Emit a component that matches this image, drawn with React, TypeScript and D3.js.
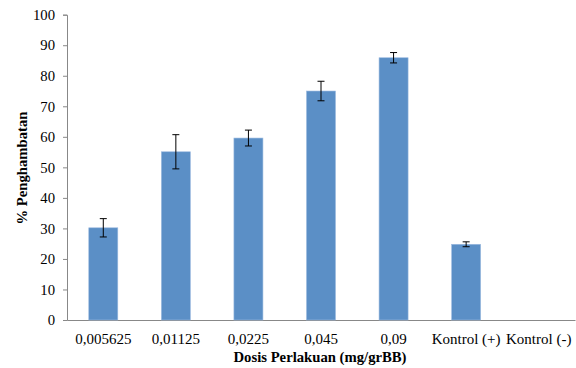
import * as d3 from "d3";
import { useRef, useEffect } from "react";

const categories = ["0,005625", "0,01125", "0,0225", "0,045", "0,09", "Kontrol (+)", "Kontrol (-)"];
const values = [30.2, 55.1, 59.6, 75.0, 85.9, 24.8, 0];
const errors = [3.0, 5.6, 2.6, 3.2, 1.7, 0.8, 0];
const yTicks = [0, 10, 20, 30, 40, 50, 60, 70, 80, 90, 100];

const width = 576;
const height = 368;
const margin = { top: 14.7, right: 1, bottom: 48, left: 67 };
const FONT = "'Liberation Serif', 'Times New Roman', serif";

const App = () => {
  const svgRef = useRef(null);

  useEffect(() => {
    const innerW = width - margin.left - margin.right;
    const innerH = height - margin.top - margin.bottom;

    const xScale = d3.scaleBand().domain(categories).range([0, innerW]).paddingInner(0.6).paddingOuter(0.3);
    const yScale = d3.scaleLinear().domain([0, 100]).range([innerH, 0]);

    const svgEl = d3.select(svgRef.current);
    svgEl.selectAll("*").remove();

    const svg = svgEl.append("g").attr("transform", `translate(${margin.left},${margin.top})`);

    // y axis
    const yAxisGroup = svg
      .append("g")
      .call(d3.axisLeft(yScale).tickValues(yTicks).tickSize(4).tickPadding(8));
    yAxisGroup.attr("font-family", null).attr("font-size", null);
    yAxisGroup.select(".domain").attr("stroke", "#888");
    yAxisGroup.selectAll("line").attr("stroke", "#888");
    yAxisGroup
      .selectAll("text")
      .attr("fill", "#000")
      .style("font-family", FONT)
      .style("font-size", "14.7px");

    // x axis
    const xAxisGroup = svg
      .append("g")
      .attr("transform", `translate(0, ${innerH})`)
      .call(d3.axisBottom(xScale).tickSize(0).tickPadding(13));
    xAxisGroup.attr("font-family", null).attr("font-size", null);
    xAxisGroup.select(".domain").attr("stroke", "#888");
    xAxisGroup
      .selectAll("text")
      .attr("fill", "#000")
      .style("font-family", FONT)
      .style("font-size", "15px");

    // bars
    svg
      .selectAll(".bar")
      .data(values)
      .enter()
      .append("rect")
      .attr("x", (d, i) => xScale(categories[i]))
      .attr("y", (d) => yScale(d))
      .attr("width", xScale.bandwidth())
      .attr("height", (d) => innerH - yScale(d))
      .attr("fill", "#5b8fc6")
      .attr("stroke", "#9dbbe0")
      .attr("stroke-width", 0.6);

    // error bars
    const eb = svg
      .selectAll(".err")
      .data(values.map((v, i) => ({ v, e: errors[i], c: categories[i] })).filter((d) => d.e > 0))
      .enter()
      .append("g")
      .attr("stroke", "#000")
      .attr("stroke-width", 1);
    const cx = (d) => xScale(d.c) + xScale.bandwidth() / 2;
    eb.append("line")
      .attr("x1", cx)
      .attr("x2", cx)
      .attr("y1", (d) => yScale(d.v + d.e))
      .attr("y2", (d) => yScale(d.v - d.e));
    eb.append("line")
      .attr("x1", (d) => cx(d) - 3.5)
      .attr("x2", (d) => cx(d) + 3.5)
      .attr("y1", (d) => yScale(d.v + d.e))
      .attr("y2", (d) => yScale(d.v + d.e));
    eb.append("line")
      .attr("x1", (d) => cx(d) - 3.5)
      .attr("x2", (d) => cx(d) + 3.5)
      .attr("y1", (d) => yScale(d.v - d.e))
      .attr("y2", (d) => yScale(d.v - d.e));

    // axis titles
    svgEl
      .append("text")
      .attr("x", 320)
      .attr("y", 362)
      .attr("text-anchor", "middle")
      .style("font-family", FONT)
      .attr("font-weight", "bold")
      .style("font-size", "14.7px")
      .text("Dosis Perlakuan (mg/grBB)");
    svgEl
      .append("text")
      .attr("transform", `translate(27, 168) rotate(-90)`)
      .attr("text-anchor", "middle")
      .style("font-family", FONT)
      .attr("font-weight", "bold")
      .style("font-size", "14.7px")
      .text("% Penghambatan");
  }, []);

  return (
    <svg
      ref={svgRef}
      width={width}
      height={height}
      style={{ position: "absolute", left: 0, top: 0, background: "#fff" }}
    />
  );
};

export default App;
